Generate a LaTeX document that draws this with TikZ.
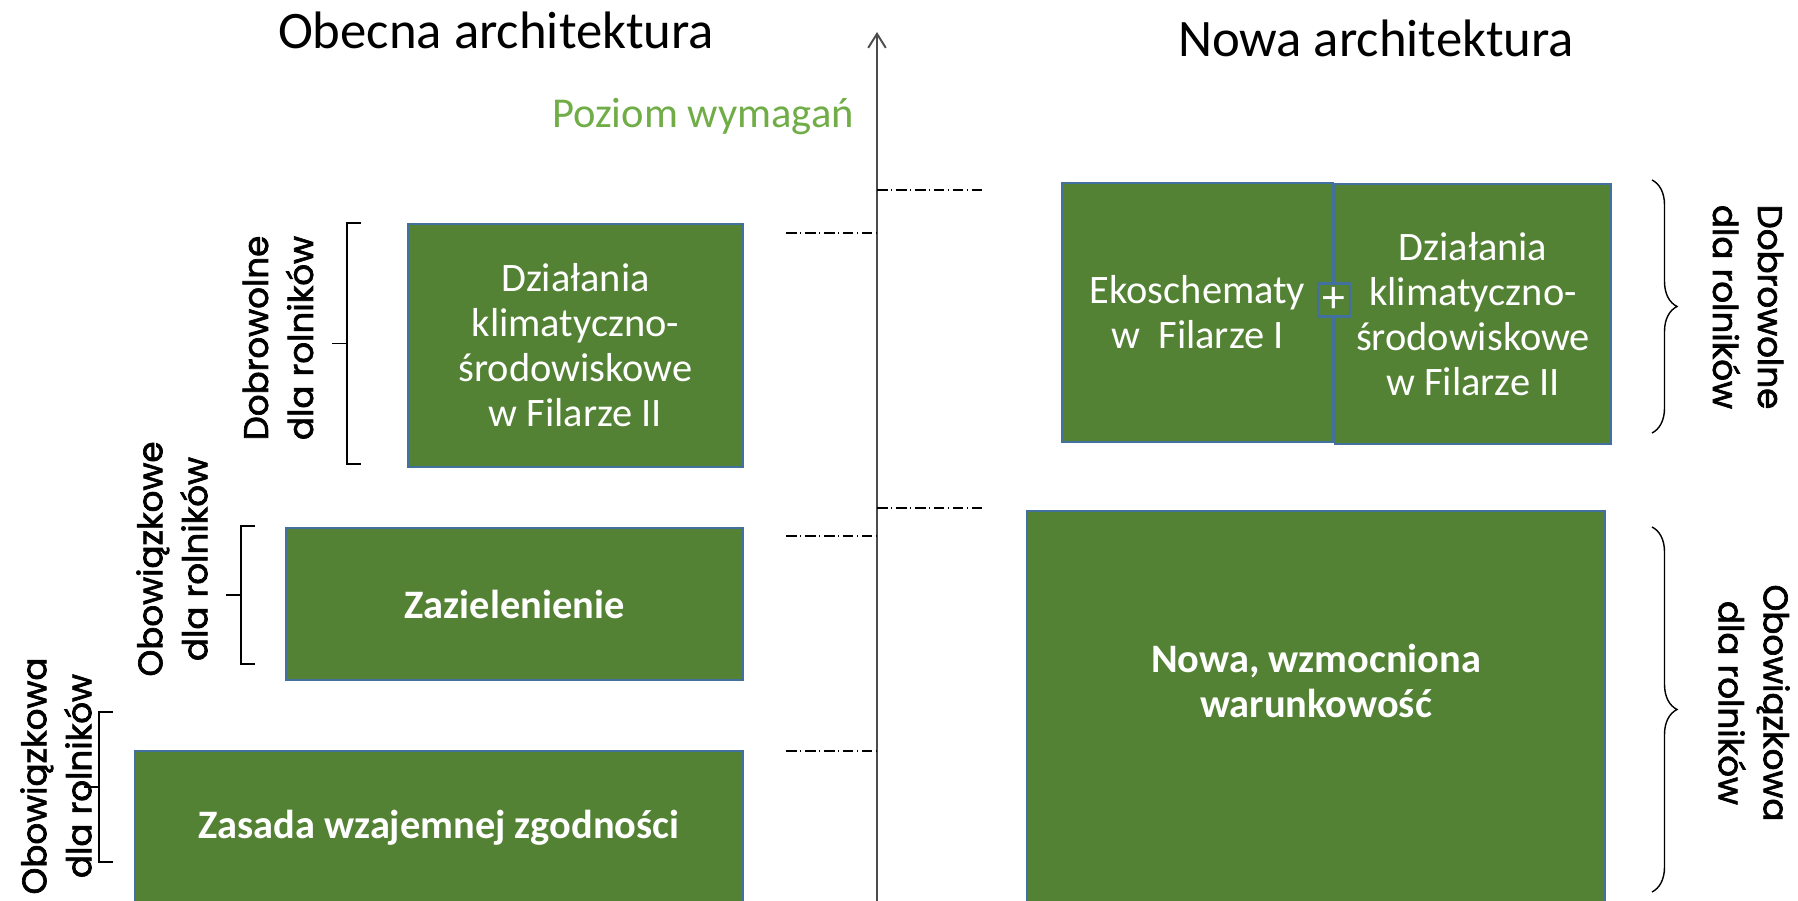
\documentclass[tikz,border=0pt]{standalone}
\usepackage{fontspec}
\setmainfont{Carlito}
\newfontfamily\sidefont[FakeBold=2]{Poppins}
\usetikzlibrary{decorations.pathreplacing,arrows.meta}
\definecolor{boxgreen}{HTML}{548235}
\definecolor{boxblue}{HTML}{41719C}
\definecolor{lightgreen}{HTML}{70AD47}
\begin{document}
\begin{tikzpicture}[box/.style={draw=boxblue, fill=boxgreen, line width=0.6pt, text=white, inner sep=0pt, align=center, font=\fontsize{11.5}{12.8}\selectfont},
  boldtext/.style={font=\fontsize{11.5}{12.8}\selectfont\bfseries},
  side/.style={align=center, font=\sidefont\fontsize{9.7}{12.8}\selectfont},
  level/.style={densely dash dot, thin},
  title/.style={anchor=base, font=\fontsize{15}{18}\selectfont}]
\useasboundingbox (0,0) rectangle (17.98,9.01);
\node[title] (obecna) at (4.96,8.52) {Obecna architektura};
\node[title] (nowaT) at (13.76,8.44) {Nowa architektura};
\node[anchor=base, text=lightgreen, font=\fontsize{12.1}{14}\selectfont] (poziom) at (7.03,7.73) {Poziom wymagań};
\draw[-{Straight Barb[length=4pt,width=5pt]}, gray!60!black, line width=0.55pt] (8.77,0) -- (8.77,8.69);
\draw[level] (8.77,7.11) -- (9.83,7.11);
\draw[level] (8.77,3.93) -- (9.82,3.93);
\foreach \y in {6.68,3.65,1.50} \draw[level] (7.86,\y) -- (8.77,\y);
% obecna architektura
\node[box, minimum width=3.35cm, minimum height=2.43cm] (dzialL) at (5.755,5.555) {Działania\\klimatyczno-\\środowiskowe\\w Filarze II};
\node[box, boldtext, minimum width=4.57cm, minimum height=1.52cm] (zaziel) at (5.145,2.97) {Zazielenienie};
\node[box, boldtext, minimum width=6.08cm, minimum height=1.54cm] (zasada) at (4.39,0.73) {Zasada wzajemnej zgodności};
\foreach \x/\a/\b in {3.47/6.78/4.37, 2.41/3.75/2.37, 0.99/1.89/0.39}
  \draw[thin] ({\x+0.14},\a) -- (\x,\a) -- (\x,\b) -- ({\x+0.14},\b) (\x,{(\a+\b)/2}) -- ({\x-0.15},{(\a+\b)/2});
\node[side, rotate=90] (dobroL) at (2.78,5.63) {Dobrowolne\\dla rolników};
\node[side, rotate=90] (obowL) at (1.72,3.42) {Obowiązkowe\\dla rolników};
\node[side, rotate=90] (obowaL) at (0.56,1.25) {Obowiązkowa\\dla rolników};
% nowa architektura
\node[box, minimum width=2.71cm, minimum height=2.59cm] (eko) at (11.975,5.885) {Ekoschematy\\w\ \ Filarze I};
\node[box, minimum width=2.76cm, minimum height=2.60cm] (dzialR) at (14.73,5.87) {Działania\\klimatyczno-\\środowiskowe\\w Filarze II};
\node[box, minimum width=0.32cm, minimum height=0.33cm, font=\fontsize{13}{13}\selectfont] (plus) at (13.34,6.01) {+};
\node[box, minimum width=5.78cm, minimum height=3.94cm] (nowa) at (13.16,1.93) {};
\node[boldtext, text=white, align=center] (nowatxt) at (13.16,2.2) {Nowa, wzmocniona\\warunkowość};
\draw[thin, decorate, decoration={brace, amplitude=0.25cm}] (16.52,7.21) -- (16.52,4.68);
\draw[thin, decorate, decoration={brace, amplitude=0.25cm}] (16.52,3.74) -- (16.52,0.09);
\node[side, rotate=-90] (dobroR) at (17.48,5.94) {Dobrowolne\\dla rolników};
\node[side, rotate=-90] (obowR) at (17.54,1.98) {Obowiązkowa\\dla rolników};
\end{tikzpicture}
\end{document}
